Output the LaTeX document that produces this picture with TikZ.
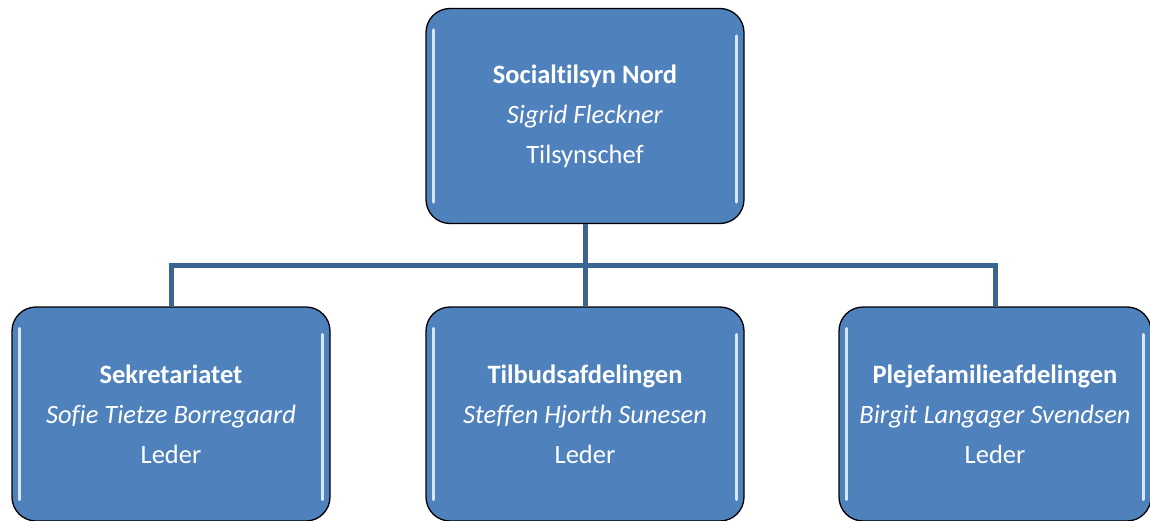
\documentclass[tikz,border=0pt]{standalone}
\usepackage{fontspec}
\setmainfont{Carlito}[Ligatures=NoCommon]
\usetikzlibrary{calc}
\definecolor{boxblue}{HTML}{4F81BD}
\definecolor{linkblue}{HTML}{3B6591}
\definecolor{glow}{HTML}{D4E8F8}
\tikzset{
  orgbox/.style={draw=black, line width=1.3pt, fill=boxblue, rounded corners=24pt,
    minimum width=318pt, inner sep=0pt, text=white, align=center,
    font=\fontsize{26.5}{40}\selectfont},
  conn/.style={draw=linkblue, line width=5pt},
  hl/.style={draw=glow, line width=3pt, line cap=round}
}
\begin{document}
\begin{tikzpicture}[x=1pt,y=1pt]
\useasboundingbox (0,0) rectangle (1150,520);
\node[orgbox, minimum height=215pt] (top) at (585,404)
  {\textbf{Socialtilsyn Nord}\\\textit{Sigrid Fleckner}\\Tilsynschef};
\node[orgbox, minimum height=214pt] (a) at (171,106)
  {\textbf{Sekretariatet}\\\textit{Sofie Tietze Borregaard}\\Leder};
\node[orgbox, minimum height=214pt] (b) at (585,106)
  {\textbf{Tilbudsafdelingen}\\\textit{Steffen Hjorth Sunesen}\\Leder};
\node[orgbox, minimum height=214pt, minimum width=312pt] (c) at (995,106)
  {\textbf{Plejefamilieafdelingen}\\\textit{Birgit Langager Svendsen}\\Leder};
\coordinate (j) at (585,255);
\begin{scope}[on background layer/.try]
\end{scope}
\foreach \n in {top,a,b,c}{
  \draw[hl] ($(\n.north west)+(8,-22)$) -- ($(\n.south west)+(8,22)$);
  \draw[hl] ($(\n.north east)+(-8,-28)$) -- ($(\n.south east)+(-8,22)$);
}
\draw[conn] (top.south) -- (j);
\draw[conn] (j) -| (a.north);
\draw[conn] (j) -- (b.north);
\draw[conn] (j) -| (c.north);
\end{tikzpicture}
\end{document}
